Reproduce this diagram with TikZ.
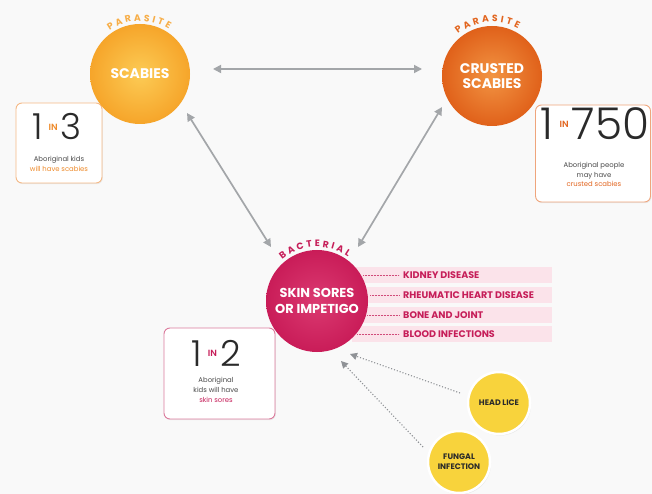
\documentclass[tikz,border=0pt]{standalone}
\usepackage{fontspec}
\setmainfont{Poppins}
\newfontfamily\lightfont{Poppins Light}
\usetikzlibrary{calc,decorations.text,shadows,arrows.meta}
\definecolor{bg}{HTML}{F9F9F9}
\definecolor{scabO}{HTML}{F6A52A}
\definecolor{scabI}{HTML}{FCCB55}
\definecolor{crustO}{HTML}{E0611A}
\definecolor{crustI}{HTML}{F29443}
\definecolor{skinO}{HTML}{C91C58}
\definecolor{skinI}{HTML}{DB3A71}
\definecolor{yel}{HTML}{F8D33C}
\definecolor{arr}{HTML}{A3A6A9}
\definecolor{darr}{HTML}{8F9296}
\definecolor{mag}{HTML}{C61E59}
\definecolor{barpink}{HTML}{FBE3EA}
\definecolor{orlbl}{HTML}{F7AE48}
\definecolor{ortxt}{HTML}{EE8A2A}
\definecolor{crtxt}{HTML}{E2651F}
\definecolor{txt}{HTML}{2A2A2A}
\definecolor{boxor}{HTML}{F5B986}
\definecolor{boxcr}{HTML}{EFA57C}
\definecolor{boxpk}{HTML}{DB7A9C}
\newcommand\inword[2]{\hspace{6bp}\raisebox{#2}{\fontsize{9}{9}\selectfont\bfseries\color{#1}IN}\hspace{3bp}}
\tikzset{
  bigcirc/.style={circle, minimum size=100bp, inner sep=0pt, text=white, align=center,
    font=\bfseries\fontsize{14}{15}\selectfont},
  smallcirc/.style={circle, minimum size=62bp, inner sep=0pt, fill=yel, draw=white, line width=2.5bp,
    text=txt, align=center, font=\bfseries\fontsize{8}{10}\selectfont,
    drop shadow={opacity=0.15, shadow xshift=1bp, shadow yshift=-1.5bp}},
  statbox/.style={draw, rounded corners=6bp, fill=white, line width=0.9bp,
    drop shadow={opacity=0.12, shadow xshift=0.8bp, shadow yshift=-1.2bp}},
  bignum/.style={text=txt, inner sep=0pt, anchor=base, font=\lightfont\fontsize{36}{36}\selectfont},
  smalltxt/.style={text=txt!85, align=center, inner sep=0pt, font=\fontsize{6.9}{9.8}\selectfont},
  garrow/.style={draw=arr, line width=1.7bp, {Triangle[length=8bp,width=8bp]}-{Triangle[length=8bp,width=8bp]}},
  darrow/.style={draw=darr, line width=1.1bp, dash pattern=on 1.1bp off 1.9bp, -{Triangle[length=7bp,width=7bp]}},
  barbox/.style={fill=barpink, minimum height=16bp, inner sep=0pt},
  bartxt/.style={anchor=west, text=mag, inner sep=0pt, font=\bfseries\fontsize{9.6}{10}\selectfont},
  barline/.style={draw=mag!80, line width=0.6bp, dash pattern=on 0.6bp off 0.9bp},
}
\begin{document}
\begin{tikzpicture}[x=1bp,y=-1bp]
\useasboundingbox[fill=bg] (0,0) rectangle (652,494);

% pink bars
\foreach \yy/\nm in {275/b1,295/b2,315/b3,334/b4}{
  \node[barbox, minimum width=200bp] (\nm) at (452,\yy) {};
}

% stat boxes
\node[statbox, draw=boxor, minimum width=86bp, minimum height=80bp] (box3) at (59,143) {};
\node[statbox, draw=boxcr, minimum width=115bp, minimum height=97bp] (box750) at (593,153.5) {};
\node[statbox, draw=boxpk, minimum width=111bp, minimum height=91bp] (box2) at (219.5,373.5) {};

% main circles
\node[bigcirc, shading=radial, inner color=scabI, outer color=scabO] (scab) at (140,74) {SCABIES};
\node[bigcirc, shading=radial, inner color=crustI, outer color=crustO] (crust) at (492,76) {CRUSTED\\SCABIES};
\node[bigcirc, minimum size=102bp, shading=radial, inner color=skinI, outer color=skinO,
  font=\bfseries\fontsize{13}{15.5}\selectfont] (skin) at (317,301) {SKIN SORES\\OR IMPETIGO};

% small circles
\node[smallcirc] (lice) at (499,403) {HEAD LICE};
\node[smallcirc] (fungal) at (459,462) {FUNGAL\\INFECTION};

% arched labels
\path[decorate, decoration={text along path, text align=fit to path,
  text={|\bfseries\fontsize{9.3}{10}\selectfont\color{orlbl}|PARASITE}}]
  ($(scab)+(125:53bp)$) arc[start angle=125, end angle=57, radius=53bp];
\path[decorate, decoration={text along path, text align=fit to path,
  text={|\bfseries\fontsize{9.3}{10}\selectfont\color{crtxt}|PARASITE}}]
  ($(crust)+(129:54bp)$) arc[start angle=129, end angle=61, radius=54bp];
\path[decorate, decoration={text along path, text align=fit to path,
  text={|\bfseries\fontsize{9.3}{10}\selectfont\color{mag}|BACTERIAL}}]
  ($(skin)+(130:54bp)$) arc[start angle=130, end angle=55, radius=54bp];

% stat texts
\node[bignum] (n3) at (57,140) {1\inword{ortxt}{9.3bp}3};
\node[smalltxt] (t3) at (59,164) {Aboriginal kids\\\color{ortxt}will have scabies};
\node[bignum, font=\lightfont\fontsize{44}{44}\selectfont] (n750) at (595,140) {1\inword{crtxt}{12bp}750};
\node[smalltxt] (t750) at (594,174.5) {Aboriginal people\\may have\\\color{crtxt}crusted scabies};
\node[bignum] (n2) at (216,366) {1\inword{mag}{9.3bp}2};
\node[smalltxt] (t2) at (216,390) {Aboriginal\\kids will have\\\color{mag}skin sores};

% bar texts and dotted leaders
\node[bartxt] (k1) at (403,275) {KIDNEY DISEASE};
\node[bartxt] (k2) at (403,295) {RHEUMATIC HEART DISEASE};
\node[bartxt] (k3) at (403,315) {BONE AND JOINT};
\node[bartxt] (k4) at (403,334) {BLOOD INFECTIONS};
\draw[barline] ($(skin)+(46,-26)$) -- ([xshift=-4bp]k1.west);
\draw[barline] ($(skin)+(53,-6)$) -- ([xshift=-4bp]k2.west);
\draw[barline] ($(skin)+(50,14)$) -- ([xshift=-4bp]k3.west);
\draw[barline] ($(skin)+(40,33)$) -- ([xshift=-4bp]k4.west);

% gray double arrows
\draw[garrow] ($(scab)+(73,-5)$) -- ($(crust)+(-70,-7)$);
\draw[garrow] ($(scab)+(47,39)$) -- ($(skin)+(-46,-54)$);
\draw[garrow] ($(crust)+(-50,31)$) -- ($(skin)+(41,-54)$);

% dotted arrows
\draw[darrow] ($(lice)+(-39,-10)$) -- ($(skin)+(33,53)$);
\draw[darrow] ($(fungal)+(-36,-15)$) -- ($(skin)+(24,60)$);
\end{tikzpicture}
\end{document}
